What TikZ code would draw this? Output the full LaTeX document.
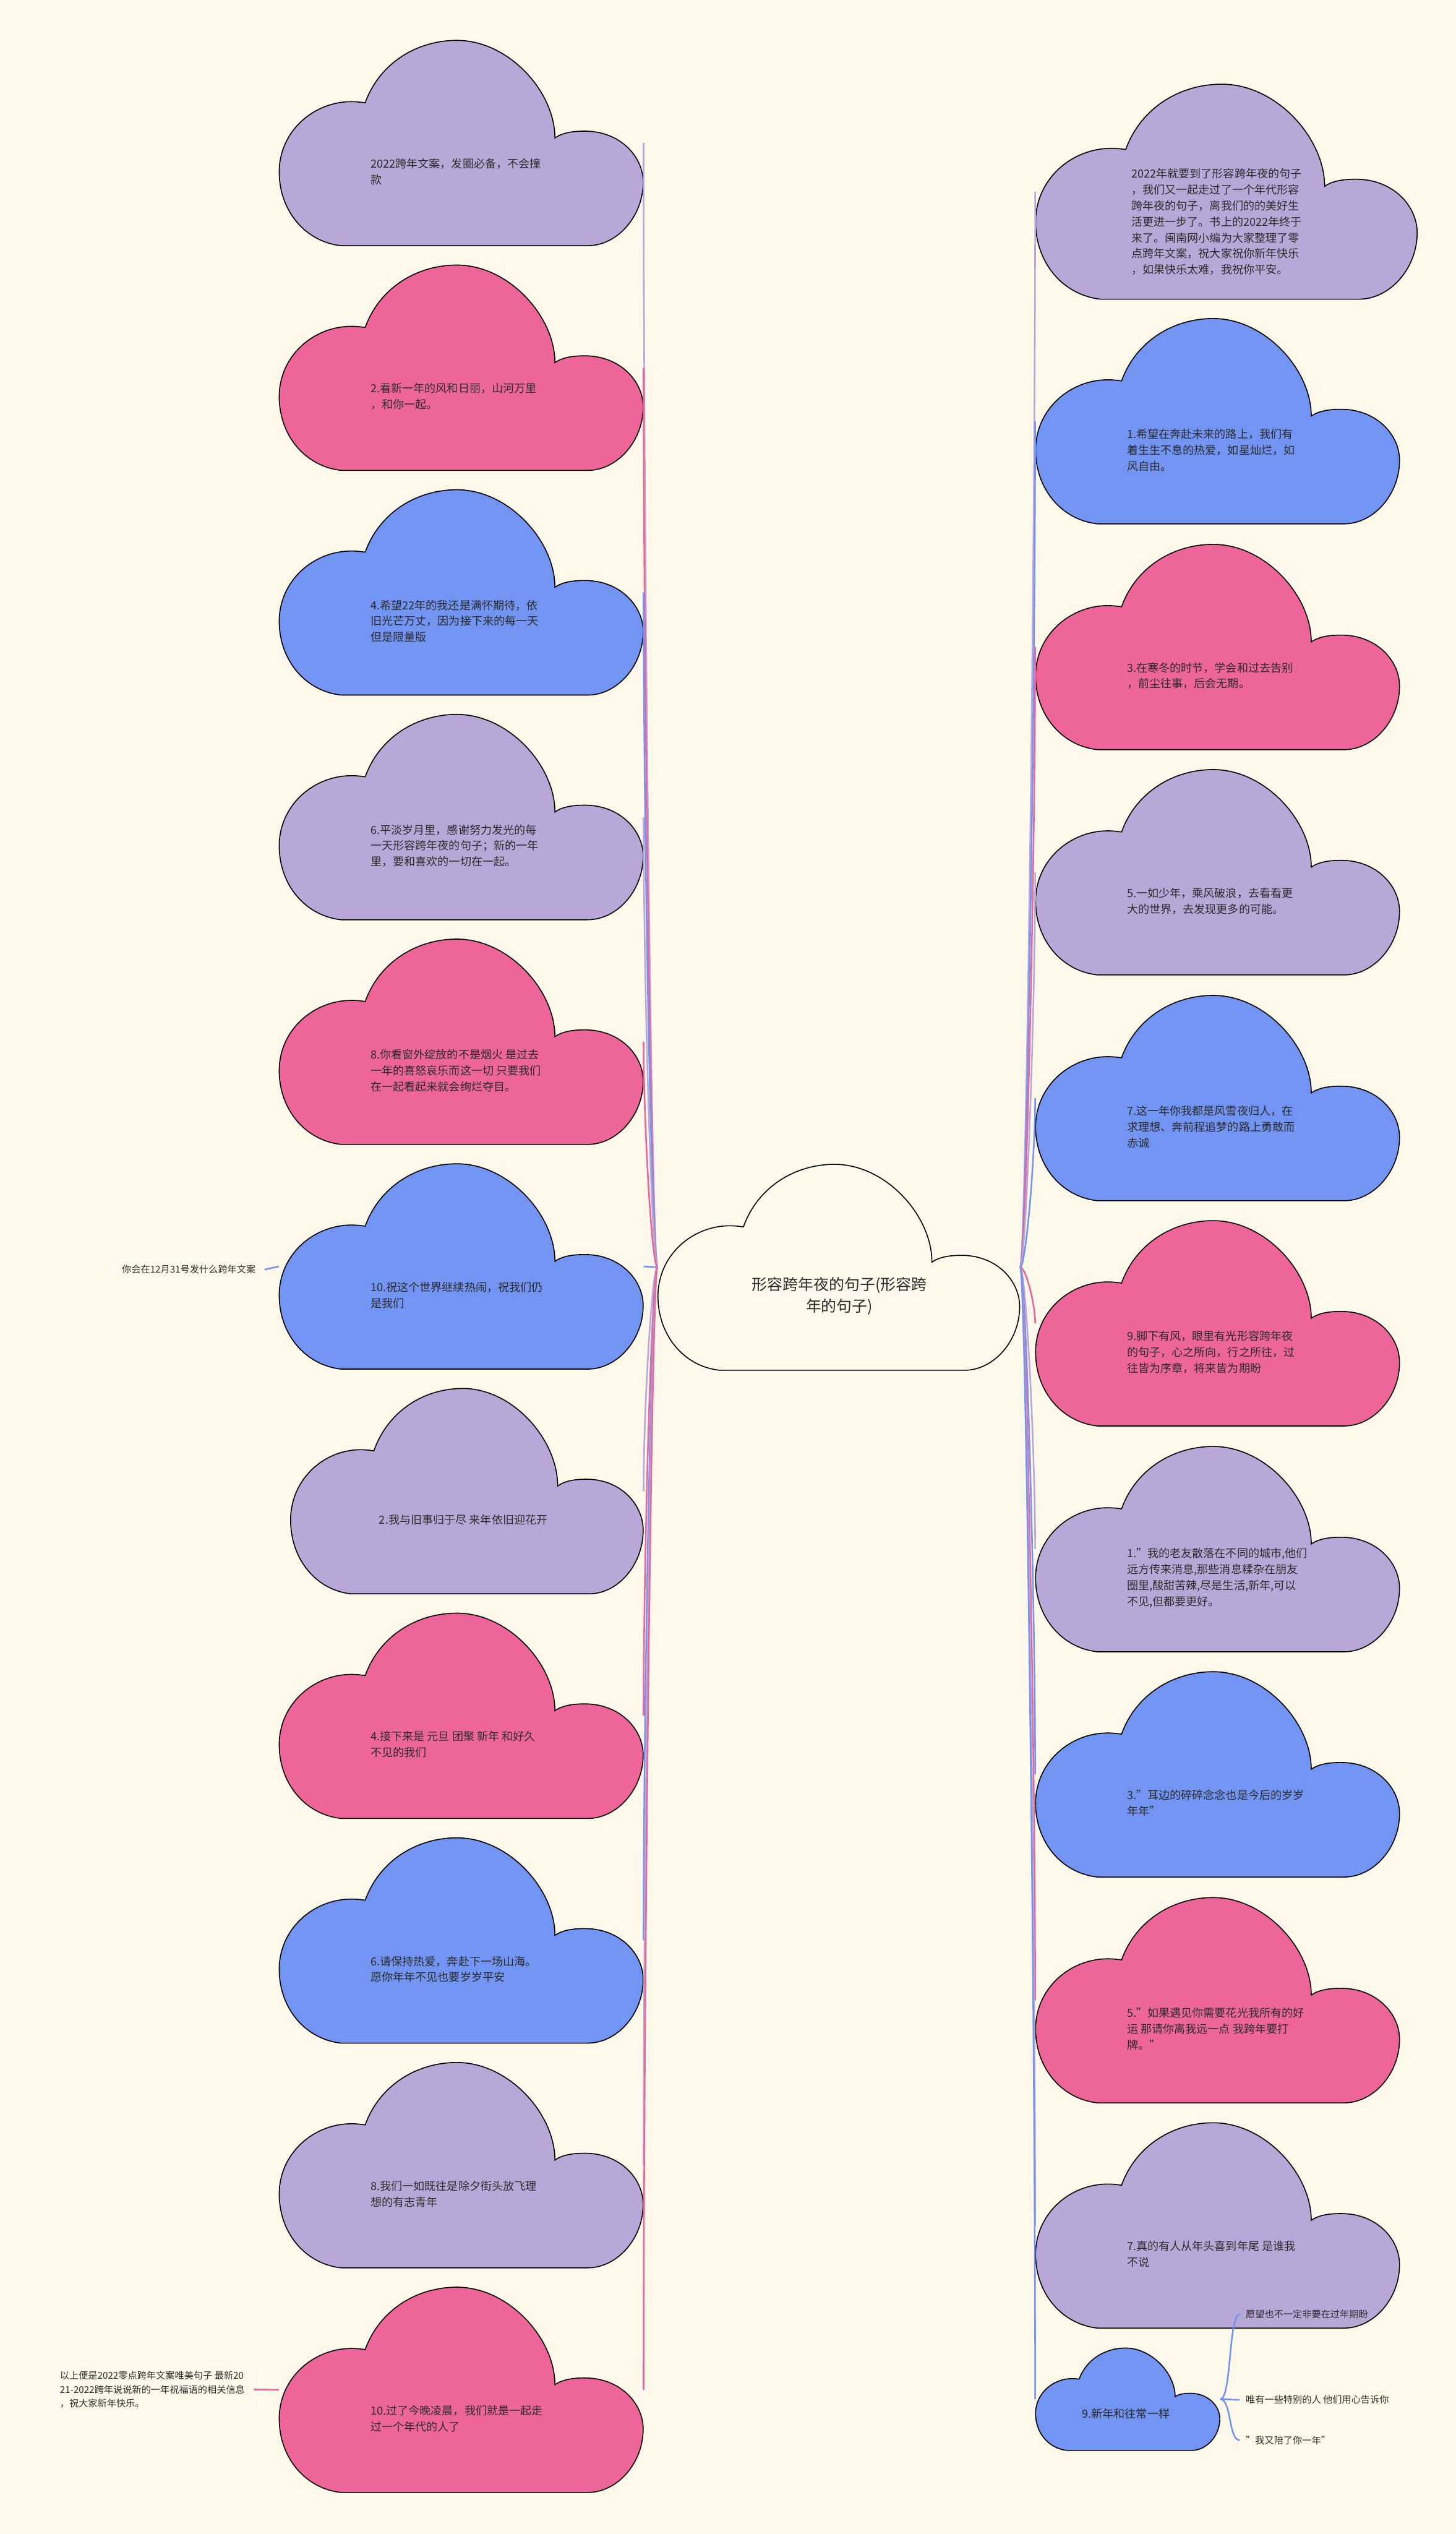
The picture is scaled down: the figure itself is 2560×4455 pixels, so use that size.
\documentclass[tikz,border=0pt]{standalone}
\usepackage{fontspec}
\setmainfont{Noto Sans CJK SC}
\usetikzlibrary{calc}

\definecolor{bgcream}{HTML}{FEF9EA}
\definecolor{cloudpurple}{HTML}{B8A8D8}
\definecolor{cloudpink}{HTML}{EE6699}
\definecolor{cloudblue}{HTML}{7294F2}
\definecolor{inktext}{HTML}{2B2B2B}

\tikzset{
  cloudline/.style={draw=black, line width=0.5pt},
  cloudbox/.style={inner sep=0pt},
  cloudtext/.style={inner sep=0pt, align=left, text=inktext, font=\fontsize{5.6pt}{8pt}\selectfont},
  roottext/.style={inner sep=0pt, align=center, text=inktext, font=\fontsize{7.7pt}{10.8pt}\selectfont},
  leafbox/.style={draw=white, fill=bgcream, rounded corners=0.15cm, inner xsep=0.15cm, inner ysep=0.1cm, align=left, text=inktext, font=\fontsize{4.7pt}{7pt}\selectfont},
  wishtext/.style={inner xsep=0.1cm, inner ysep=0.05cm, anchor=west, text=inktext, font=\fontsize{4.7pt}{7pt}\selectfont},
  link/.style={line width=0.8pt},
}

% cloud outline, drawn in a 635 x 362 box and stretched
\newcommand{\drawcloud}[5]{%
  \filldraw[cloudline, fill=#5, shift={(#1,#2)}, xscale=#3/635, yscale=#4/362]
    (108,362) .. controls (45,355) and (0,300) .. (0,232)
    .. controls (0,160) and (60,108) .. (126,108)
    .. controls (135,108) and (143,109) .. (150,110)
    .. controls (175,40) and (240,0) .. (310,0)
    .. controls (400,0) and (481,90) .. (481,172)
    .. controls (495,162) and (515,160) .. (533,160)
    .. controls (595,160) and (635,205) .. (635,250)
    .. controls (635,310) and (590,362) .. (538,362) -- cycle;
}
% name, x, y, width, height, colour, text
\newcommand{\cloudnode}[7]{%
  \drawcloud{#2}{#3}{#4}{#5}{#6}
  \node[cloudbox, minimum width=#4*0.01cm, minimum height=#5*0.01cm] (#1) at (#2+#4/2, #3+#5/2) {};
  \node[cloudtext, anchor=west] (#1-t) at (#2+0.25*#4, #3+0.64*#5) {#7};
}

\begin{document}
\begin{tikzpicture}[x=0.01cm, y=-0.01cm]
  \fill[bgcream, use as bounding box] (0,0) rectangle (2560,4455);

  % root
  \drawcloud{1157}{2047}{636}{362}{bgcream}
  \node[cloudbox, minimum width=6.36cm, minimum height=3.62cm] (root) at (1475,2228) {};
  \node[roottext] (root-t) at (1476,2278) {形容跨年夜的句子(形容跨\\年的句子)};

  % left side
  \cloudnode{l1}{491}{71}{640}{361}{cloudpurple}{2022跨年文案，发圈必备，不会撞\\款}
  \cloudnode{l2}{491}{466}{640}{361}{cloudpink}{2.看新一年的风和日丽，山河万里\\，和你一起。}
  \cloudnode{l3}{491}{861}{640}{361}{cloudblue}{4.希望22年的我还是满怀期待，依\\旧光芒万丈，因为接下来的每一天\\但是限量版}
  \cloudnode{l4}{491}{1256}{640}{361}{cloudpurple}{6.平淡岁月里，感谢努力发光的每\\一天形容跨年夜的句子；新的一年\\里，要和喜欢的一切在一起。}
  \cloudnode{l5}{491}{1651}{640}{361}{cloudpink}{8.你看窗外绽放的不是烟火 是过去\\一年的喜怒哀乐而这一切 只要我们\\在一起看起来就会绚烂夺目。}
  \cloudnode{l6}{491}{2046}{640}{361}{cloudblue}{10.祝这个世界继续热闹，祝我们仍\\是我们}
  \cloudnode{l7}{511}{2441}{620}{361}{cloudpurple}{2.我与旧事归于尽 来年依旧迎花开}
  \cloudnode{l8}{491}{2836}{640}{361}{cloudpink}{4.接下来是 元旦 团聚 新年 和好久\\不见的我们}
  \cloudnode{l9}{491}{3231}{640}{361}{cloudblue}{6.请保持热爱，奔赴下一场山海。\\愿你年年不见也要岁岁平安}
  \cloudnode{l10}{491}{3626}{640}{361}{cloudpurple}{8.我们一如既往是除夕街头放飞理\\想的有志青年}
  \cloudnode{l11}{491}{4021}{640}{361}{cloudpink}{10.过了今晚凌晨，我们就是一起走\\过一个年代的人了}

  % right side
  \cloudnode{r1}{1821}{148}{671}{378}{cloudpurple}{2022年就要到了形容跨年夜的句子\\，我们又一起走过了一个年代形容\\跨年夜的句子，离我们的的美好生\\活更进一步了。书上的2022年终于\\来了。闽南网小编为大家整理了零\\点跨年文案，祝大家祝你新年快乐\\，如果快乐太难，我祝你平安。}
  \cloudnode{r2}{1821}{560}{640}{361}{cloudblue}{1.希望在奔赴未来的路上，我们有\\着生生不息的热爱，如星灿烂，如\\风自由。}
  \cloudnode{r3}{1821}{957}{640}{361}{cloudpink}{3.在寒冬的时节，学会和过去告别\\，前尘往事，后会无期。}
  \cloudnode{r4}{1821}{1353}{640}{361}{cloudpurple}{5.一如少年，乘风破浪，去看看更\\大的世界，去发现更多的可能。}
  \cloudnode{r5}{1821}{1750}{640}{361}{cloudblue}{7.这一年你我都是风雪夜归人，在\\求理想、奔前程追梦的路上勇敢而\\赤诚}
  \cloudnode{r6}{1821}{2146}{640}{361}{cloudpink}{9.脚下有风，眼里有光形容跨年夜\\的句子，心之所向，行之所往，过\\往皆为序章，将来皆为期盼}
  \cloudnode{r7}{1821}{2543}{640}{361}{cloudpurple}{1."我的老友散落在不同的城市,他们\\远方传来消息,那些消息糅杂在朋友\\圈里,酸甜苦辣,尽是生活,新年,可以\\不见,但都要更好。}
  \cloudnode{r8}{1821}{2939}{640}{361}{cloudblue}{3."耳边的碎碎念念也是今后的岁岁\\年年"}
  \cloudnode{r9}{1821}{3336}{640}{361}{cloudpink}{5."如果遇见你需要花光我所有的好\\运 那请你离我远一点 我跨年要打\\牌。"}
  \cloudnode{r10}{1821}{3732}{640}{361}{cloudpurple}{7.真的有人从年头喜到年尾 是谁我\\不说}
  \cloudnode{r11}{1821}{4128}{324}{180}{cloudblue}{9.新年和往常一样}

  % leaves
  \node[leafbox] (q1) at (332,2232) {你会在12月31号发什么跨年文案};
  \node[leafbox] (q2) at (268,4201) {以上便是2022零点跨年文案唯美句子 最新20\\21-2022跨年说说新的一年祝福语的相关信息\\，祝大家新年快乐。};
  \node[wishtext] (w1) at (2180,4069) {愿望也不一定非要在过年期盼};
  \node[wishtext] (w2) at (2180,4219) {唯有一些特别的人 他们用心告诉你};
  \node[wishtext] (w3) at (2180,4290) {"我又陪了你一年"};

  % connectors, left
  \draw[link, cloudpurple] (root.west) .. controls ([xshift=-0.1cm]root.west) and ($(l1.east)!0.35!(l1.east |- root.west)$) .. (l1.east);
  \draw[link, cloudpink] (root.west) .. controls ([xshift=-0.1cm]root.west) and ($(l2.east)!0.35!(l2.east |- root.west)$) .. (l2.east);
  \draw[link, cloudblue] (root.west) .. controls ([xshift=-0.1cm]root.west) and ($(l3.east)!0.35!(l3.east |- root.west)$) .. (l3.east);
  \draw[link, cloudpurple] (root.west) .. controls ([xshift=-0.1cm]root.west) and ($(l4.east)!0.35!(l4.east |- root.west)$) .. (l4.east);
  \draw[link, cloudpink] (root.west) .. controls ([xshift=-0.1cm]root.west) and ($(l5.east)!0.35!(l5.east |- root.west)$) .. (l5.east);
  \draw[link, cloudblue] (root.west) -- (l6.east);
  \draw[link, cloudpurple] (root.west) .. controls ([xshift=-0.1cm]root.west) and ($(l7.east)!0.35!(l7.east |- root.west)$) .. (l7.east);
  \draw[link, cloudpink] (root.west) .. controls ([xshift=-0.1cm]root.west) and ($(l8.east)!0.35!(l8.east |- root.west)$) .. (l8.east);
  \draw[link, cloudblue] (root.west) .. controls ([xshift=-0.1cm]root.west) and ($(l9.east)!0.35!(l9.east |- root.west)$) .. (l9.east);
  \draw[link, cloudpurple] (root.west) .. controls ([xshift=-0.1cm]root.west) and ($(l10.east)!0.35!(l10.east |- root.west)$) .. (l10.east);
  \draw[link, cloudpink] (root.west) .. controls ([xshift=-0.1cm]root.west) and ($(l11.east)!0.35!(l11.east |- root.west)$) .. (l11.east);

  % connectors, right
  \draw[link, cloudpurple] (root.east) .. controls ([xshift=0.1cm]root.east) and ($(r1.west)!0.35!(r1.west |- root.east)$) .. (r1.west);
  \draw[link, cloudblue] (root.east) .. controls ([xshift=0.1cm]root.east) and ($(r2.west)!0.35!(r2.west |- root.east)$) .. (r2.west);
  \draw[link, cloudpink] (root.east) .. controls ([xshift=0.1cm]root.east) and ($(r3.west)!0.35!(r3.west |- root.east)$) .. (r3.west);
  \draw[link, cloudpurple] (root.east) .. controls ([xshift=0.1cm]root.east) and ($(r4.west)!0.35!(r4.west |- root.east)$) .. (r4.west);
  \draw[link, cloudblue] (root.east) .. controls ([xshift=0.1cm]root.east) and ($(r5.west)!0.35!(r5.west |- root.east)$) .. (r5.west);
  \draw[link, cloudpink] (root.east) .. controls ([xshift=0.1cm]root.east) and ($(r6.west)!0.35!(r6.west |- root.east)$) .. (r6.west);
  \draw[link, cloudpurple] (root.east) .. controls ([xshift=0.1cm]root.east) and ($(r7.west)!0.35!(r7.west |- root.east)$) .. (r7.west);
  \draw[link, cloudblue] (root.east) .. controls ([xshift=0.1cm]root.east) and ($(r8.west)!0.35!(r8.west |- root.east)$) .. (r8.west);
  \draw[link, cloudpink] (root.east) .. controls ([xshift=0.1cm]root.east) and ($(r9.west)!0.35!(r9.west |- root.east)$) .. (r9.west);
  \draw[link, cloudpurple] (root.east) .. controls ([xshift=0.1cm]root.east) and ($(r10.west)!0.35!(r10.west |- root.east)$) .. (r10.west);
  \draw[link, cloudblue] (root.east) .. controls ([xshift=0.1cm]root.east) and ($(r11.west)!0.35!(r11.west |- root.east)$) .. (r11.west);

  % leaf connectors
  \draw[link, cloudblue] (q1.east) -- (l6.west);
  \draw[link, cloudpink] (q2.east) -- (l11.west);
  \draw[link, cloudblue] (r11.east) .. controls +(0.2cm,0) and +(-0.2cm,0) .. (w1.west);
  \draw[link, cloudblue] (r11.east) .. controls +(0.2cm,0) and +(-0.2cm,0) .. (w2.west);
  \draw[link, cloudblue] (r11.east) .. controls +(0.2cm,0) and +(-0.2cm,0) .. (w3.west);
\end{tikzpicture}
\end{document}
